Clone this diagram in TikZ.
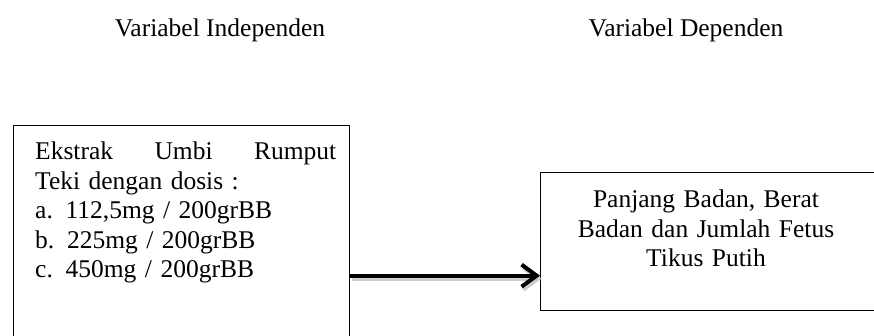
\documentclass[tikz,border=0pt]{standalone}
\usepackage{fontspec}
\setmainfont{Liberation Serif}
\usetikzlibrary{arrows.meta}
\begin{document}
\begin{tikzpicture}[x=1pt,y=-1pt,
  box/.style={draw, line width=1.3pt, inner sep=0pt, anchor=north west},
  txt/.style={font=\fontsize{25.5}{29.5}\selectfont, inner sep=0pt},
  arr/.style={line width=4pt, -{Straight Barb[length=15pt,width=22pt]}}]
\useasboundingbox (0,0) rectangle (874,335);

\coordinate (T1) at (220,36);
\coordinate (T2) at (686,36);
\coordinate (L) at (13,125);
\coordinate (R) at (540,172);

\node[txt, anchor=base] (indepTitle) at (T1) {Variabel Independen};
\node[txt, anchor=base] (depTitle) at (T2) {Variabel Dependen};

\node[box, minimum width=336pt, minimum height=300pt] (indep) at (L) {};
\node[box, minimum width=336pt, minimum height=138pt] (dep) at (R) {};

\node[txt, anchor=north west, text width=301pt, align=left] (indepText) at (35,142)
  {Ekstrak\hfill Umbi\hfill Rumput\\ Teki dengan dosis :\\ a. 112,5mg / 200grBB\\ b. 225mg / 200grBB\\ c. 450mg / 200grBB};
\node[txt, anchor=north, text width=300pt, align=center] (depText) at (706,190)
  {Panjang Badan, Berat\\ Badan dan Jumlah Fetus\\ Tikus Putih};

\draw[arr, black!20, transform canvas={xshift=1.5pt, yshift=-3pt}] (indep.east) -- (indep.east -| dep.west);
\draw[arr] (indep.east) -- (indep.east -| dep.west);
\end{tikzpicture}
\end{document}
